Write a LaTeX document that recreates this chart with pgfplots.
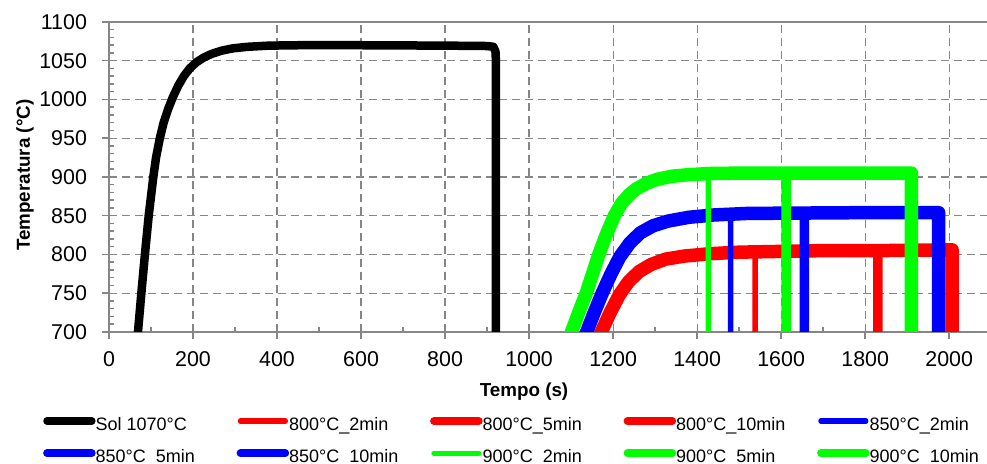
\documentclass[border=0pt]{standalone}
\usepackage{fontspec}
\setmainfont{Liberation Sans}
\usepackage{pgfplots}
\pgfplotsset{compat=1.18}
\definecolor{xred}{RGB}{255,0,0}
\definecolor{xblue}{RGB}{0,0,255}
\definecolor{xgreen}{RGB}{0,255,0}
\definecolor{gridgray}{RGB}{134,134,134}
\newcommand{\leg}[1]{\makebox[70.5pt][l]{\rule[-4.45pt]{0pt}{15.5pt}#1}}
\begin{document}
\begin{tikzpicture}
\begin{axis}[
  scale only axis, width=439pt, height=155pt,
  at={(0,0)}, anchor=south west,
  xmin=0, xmax=2090, ymin=700, ymax=1100,
  xtick={0,200,...,2000}, ytick={700,750,...,1100},
  minor x tick num=1, minor y tick num=4,
  axis x line*=bottom, axis y line*=left,
  axis line style={gridgray, line width=0.75pt},
  tick style={gridgray, line width=0.75pt},
  tick align=outside, major tick length=3.5pt, minor tick length=2.5pt,
  minor x tick style={yshift=2.5pt}, minor y tick style={xshift=2.5pt},
  grid=major, major grid style={gridgray, line width=0.6pt, dash pattern=on 4pt off 2.5pt},
  extra description/.code={\draw[gridgray, line width=0.75pt] (0,1) -- (1,1);},
  /pgf/number format/assume math mode=true, /pgf/number format/1000 sep={}, scaled ticks=false,
  ticklabel style={font=\fontsize{10.7}{12}\selectfont, text=black},
  xticklabel style={yshift=-2.5pt}, yticklabel style={xshift=-4pt},
  xlabel={Tempo (s)}, ylabel={Temperatura (°C)},
  label style={font=\bfseries\fontsize{9.4}{11}\selectfont},
  xlabel style={at={(axis description cs:0.4727,-0.1935)}, anchor=center},
  ylabel style={at={(axis description cs:-0.0957,0.506)}, anchor=center},
  legend columns=5,
  legend style={at={(axis description cs:-0.075,-0.24677)}, anchor=north west, draw=none, fill=none,
    inner sep=0pt, outer sep=0pt, column sep=0pt, row sep=3.5pt,
    font=\fontsize{9.0}{11}\selectfont, nodes={inner sep=0pt, outer sep=0pt}},
  legend cell align=left,
  legend image code/.code={\draw[#1, line cap=round] (0pt,0pt) -- (22.5pt,0pt); \path (22.5pt,0pt);},
  every axis plot/.append style={line join=round, line cap=round},
]
% Sol 1070C
\addplot[black, line width=4.25pt, legend image post style={line width=3.65pt}] coordinates {
(62,660) (69,700) (77,750) (85.5,800) (94.5,850) (105.5,900) (112,925) (121,950) (130,970) (141,988) (152,1003) (165,1018) (178,1030) (192,1040) (208,1048) (225,1054) (245,1059) (268,1063) (295,1066) (330,1068) (380,1069.5) (450,1070) (600,1070) (800,1069.5) (900,1069) (915,1068) (920,1062) (921,1050) (921,650)};
\addlegendentry{\leg{Sol 1070°C}}
% 800C 2min
\addplot[xred, line width=2.75pt, legend image post style={line width=2.6pt}] coordinates {
(1154,680) (1172,700) (1193,725) (1215,748) (1237,765) (1262,778) (1290,787) (1325,794) (1370,798) (1430,801) (1500,803) (1538,803) (1538,650)};
\addlegendentry{\leg{800°C\_2min}}
% 800C 5min
\addplot[xred, line width=4.75pt, legend image post style={line width=3.75pt}] coordinates {
(1154,680) (1172,700) (1193,725) (1215,748) (1237,765) (1262,778) (1290,787) (1325,794) (1370,798) (1430,801) (1500,803) (1600,804) (1700,805) (1830,805) (1830,650)};
\addlegendentry{\leg{800°C\_5min}}
% 800C 10min
\addplot[xred, line width=6.75pt, legend image post style={line width=3.75pt}] coordinates {
(1154,680) (1172,700) (1193,725) (1215,748) (1237,765) (1262,778) (1290,787) (1325,794) (1370,798) (1430,801) (1500,803) (1600,804) (1700,805) (1830,805) (2007,806) (2007,650)};
\addlegendentry{\leg{800°C\_10min}}
% 850C 2min
\addplot[xblue, line width=2.75pt, legend image post style={line width=2.6pt}] coordinates {
(1122,680) (1137,700) (1155,725) (1174,750) (1195,775) (1216,797) (1240,815) (1265,828) (1295,837) (1330,843) (1380,848) (1440,851) (1480,852) (1480,650)};
\addlegendentry{\leg{850°C\_2min}}
% 850C 5min
\addplot[xblue, line width=4.75pt, legend image post style={line width=3.75pt}] coordinates {
(1122,680) (1137,700) (1155,725) (1174,750) (1195,775) (1216,797) (1240,815) (1265,828) (1295,837) (1330,843) (1380,848) (1440,851) (1520,853) (1655,853) (1655,650)};
\addlegendentry{\leg{850°C\_5min}}
% 850C 10min
\addplot[xblue, line width=6.75pt, legend image post style={line width=3.75pt}] coordinates {
(1122,680) (1137,700) (1155,725) (1174,750) (1195,775) (1216,797) (1240,815) (1265,828) (1295,837) (1330,843) (1380,848) (1440,851) (1520,853) (1800,854) (1975,854) (1975,650)};
\addlegendentry{\leg{850°C\_10min}}
% 900C 2min
\addplot[xgreen, line width=2.75pt, legend image post style={line width=2.6pt}] coordinates {
(1087,680) (1101,700) (1118,725) (1136,750) (1151,775) (1166,800) (1184,826) (1203,850) (1220,866) (1238,877) (1256,885) (1280,892) (1305,897) (1340,901) (1380,903) (1427,904) (1427,650)};
\addlegendentry{\leg{900°C\_2min}}
% 900C 5min
\addplot[xgreen, line width=4.75pt, legend image post style={line width=3.75pt}] coordinates {
(1087,680) (1101,700) (1118,725) (1136,750) (1151,775) (1166,800) (1184,826) (1203,850) (1220,866) (1238,877) (1256,885) (1280,892) (1305,897) (1340,901) (1380,903) (1430,904.5) (1500,905) (1612,905) (1612,650)};
\addlegendentry{\leg{900°C\_5min}}
% 900C 10min
\addplot[xgreen, line width=6.75pt, legend image post style={line width=3.75pt}] coordinates {
(1087,680) (1101,700) (1118,725) (1136,750) (1151,775) (1166,800) (1184,826) (1203,850) (1220,866) (1238,877) (1256,885) (1280,892) (1305,897) (1340,901) (1380,903) (1430,904.5) (1500,905) (1700,905) (1910,905) (1910,650)};
\addlegendentry{\leg{900°C\_10min}}
\end{axis}
\pgfresetboundingbox
\path[use as bounding box] (-54.5pt,-66pt) rectangle (439pt,166pt);
\end{tikzpicture}
\end{document}
